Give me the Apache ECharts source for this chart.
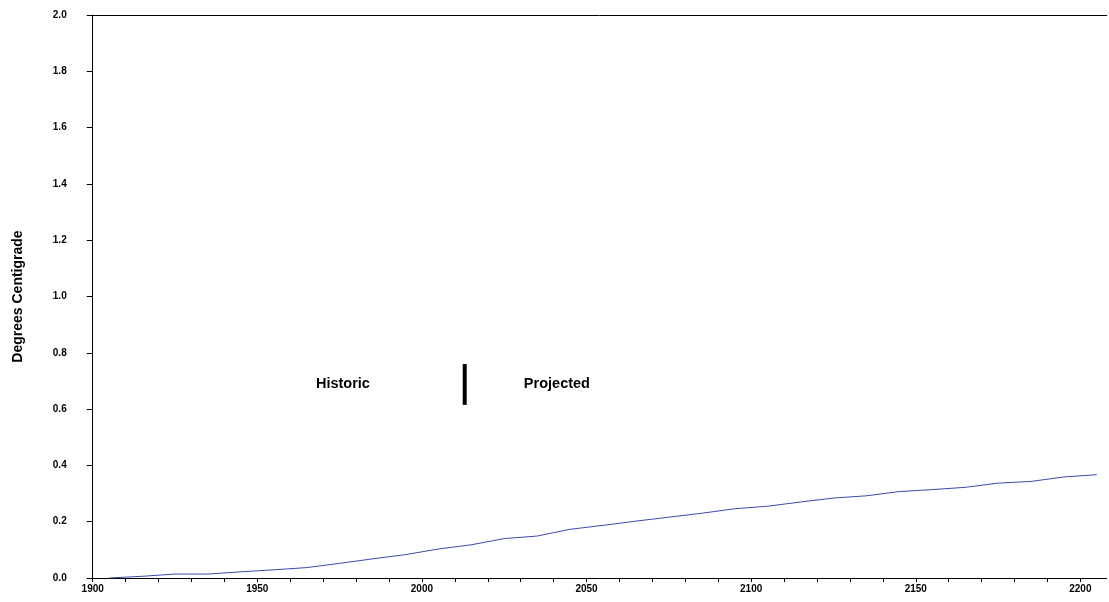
<!DOCTYPE html>
<html>
<head>
<meta charset="utf-8">
<script src="https://cdn.jsdelivr.net/npm/echarts@6/dist/echarts.min.js"></script>
<style>html,body{margin:0;padding:0;background:#fff;}#c{width:1109px;height:602px;}</style>
</head>
<body>
<div id="c"></div>
<script>
var years = [1905,1915,1925,1935,1945,1955,1965,1975,1985,1995,2005,2015,2025,2035,2045,2055,2065,2075,2085,2095,2105,2115,2125,2135,2145,2155,2165,2175,2185,2195,2205];
var temps = [0.000,0.006,0.014,0.014,0.022,0.029,0.037,0.052,0.068,0.083,0.103,0.118,0.140,0.149,0.173,0.187,0.202,0.216,0.230,0.246,0.255,0.270,0.284,0.292,0.307,0.314,0.322,0.337,0.343,0.359,0.367];
var dividerYear = 2013;
var dividerRange = [0.615, 0.76];
var periodLabels = [
  {name: 'Historic', year: 1976, value: 0.69},
  {name: 'Projected', year: 2041, value: 0.69}
];
var yAxisName = 'Degrees Centigrade';

var chart = echarts.init(document.getElementById('c'), null, {renderer: 'canvas'});
var lbl = {fontFamily: 'Arial, Liberation Sans, sans-serif', fontWeight: 'bold', fontSize: 10, color: '#000'};
chart.setOption({
  animation: false,
  backgroundColor: '#fff',
  grid: {left: 92.7, top: 15, width: 1014, bottom: 24, containLabel: false},
  xAxis: [{
    type: 'value', min: 1900, max: 2208, interval: 10,
    axisLine: {show: true, lineStyle: {color: '#000', width: 1}},
    axisTick: {show: true, length: 4, inside: false, lineStyle: {color: '#000'}},
    splitLine: {show: false},
    axisLabel: Object.assign({margin: 6, showMaxLabel: false, formatter: function (v) { return (v % 50 === 0) ? String(v) : ''; }}, lbl)
  }, {
    type: 'value', position: 'top', min: 1900, max: 2208,
    axisLine: {show: true, onZero: false, lineStyle: {color: '#000', width: 1}},
    axisTick: {show: false}, axisLabel: {show: false}, splitLine: {show: false}
  }],
  yAxis: {
    type: 'value', min: 0, max: 2, interval: 0.2,
    name: yAxisName, nameLocation: 'middle', nameGap: 68, nameRotate: 90,
    nameTextStyle: {fontFamily: 'Arial, Liberation Sans, sans-serif', fontWeight: 'bold', fontSize: 14, color: '#000'},
    axisLine: {show: true, lineStyle: {color: '#000', width: 1}},
    axisTick: {show: true, length: 6, lineStyle: {color: '#000'}},
    splitLine: {show: false},
    axisLabel: Object.assign({margin: 26, formatter: function (v) { return v.toFixed(1); }}, lbl)
  },
  series: [{
    type: 'line',
    data: years.map(function (y, i) { return [y, temps[i]]; }),
    showSymbol: false, smooth: false,
    lineStyle: {color: '#3a4ab0', width: 1}
  }, {
    type: 'line',
    data: [[dividerYear, dividerRange[0]], [dividerYear, dividerRange[1]]],
    showSymbol: false,
    lineStyle: {color: '#000', width: 4, cap: 'butt'}
  }, {
    type: 'scatter', symbolSize: 0,
    itemStyle: {opacity: 1},
    data: periodLabels.map(function (p) { return {name: p.name, value: [p.year, p.value]}; }),
    label: {show: true, opacity: 1, position: [0, 0], align: 'center', verticalAlign: 'middle', formatter: '{b}', fontFamily: 'Arial, Liberation Sans, sans-serif', fontWeight: 'bold', fontSize: 14.5, color: '#000', textBorderWidth: 0}
  }]
});
</script>
</body>
</html>
